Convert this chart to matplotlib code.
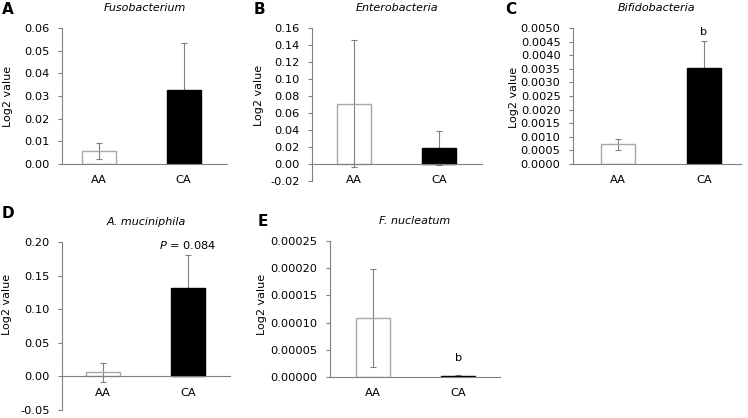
#!/usr/bin/env python3
'''
Five small bar panels (AA vs CA), log2 values with error bars.
'''

import matplotlib
matplotlib.use('Agg')
import matplotlib.pyplot as plt
from matplotlib.ticker import FormatStrFormatter, MultipleLocator

plt.rcParams['font.family'] = ['DejaVu Sans']
plt.rcParams['axes.unicode_minus'] = False

groups = ['AA', 'CA']
letters = ['A', 'B', 'C', 'D', 'E']
titles = ['Fusobacterium', 'Enterobacteria', 'Bifidobacteria',
          'A. muciniphila', 'F. nucleatum']

fuso_mean = [0.0058, 0.0325]
fuso_err = [0.0035, 0.0210]
entero_mean = [0.071, 0.019]
entero_err = [0.075, 0.020]
bifido_mean = [0.00072, 0.00352]
bifido_err = [0.00021, 0.00100]
akk_mean = [0.006, 0.131]
akk_err = [0.014, 0.049]
fn_mean = [0.000108, 0.0000025]
fn_err = [0.000090, 0.0000020]

means = [fuso_mean, entero_mean, bifido_mean, akk_mean, fn_mean]
errs = [fuso_err, entero_err, bifido_err, akk_err, fn_err]
notes = ['', '', 'b', r'$\it{P}$ = 0.084', 'b']

# layout in pixels: left, right, top, bottom of each axes
W, H = 748, 418
boxes = [(62, 227, 28, 164), (312, 482, 28, 181), (573, 741, 28, 164),
         (62, 230, 242, 410), (330, 500, 241, 377)]
ylims = [(0, 0.06), (-0.02, 0.16), (0, 0.005), (-0.05, 0.20), (0, 0.00025)]
ysteps = [0.01, 0.02, 0.0005, 0.05, 0.00005]
yfmts = ['%.2f', '%.2f', '%.4f', '%.2f', '%.5f']
xlims = [(-0.43, 1.51), (-0.49, 1.50), (-0.52, 1.43), (-0.48, 1.49), (-0.50, 1.49)]
ylab_x = [49, 48, 54, 50, 63]
ylab_y = [0.5, 0.56, 0.49, 0.63, 0.53]
note_off = [0, 0, 3, 3, 8]
letter_pos = [(2, 10), (254, 10), (505, 10), (2, 213), (258, 222)]

grey = '#808080'
fig = plt.figure(figsize=(W / 100, H / 100), dpi=100)

for i in range(5):
    l, r, t, b = boxes[i]
    ax = fig.add_axes([l / W, 1 - b / H, (r - l) / W, (b - t) / H])
    x = [0, 1]
    ax.errorbar(x, means[i], yerr=errs[i], fmt='none', ecolor=grey,
                elinewidth=0.8, capsize=2, capthick=0.8, zorder=1)
    ax.bar(0, means[i][0], width=0.4, facecolor='none', edgecolor='#a8a8a8',
           linewidth=1, zorder=2)
    ax.bar(1, means[i][1], width=0.4, facecolor='black', edgecolor='black',
           linewidth=1, zorder=2)
    ax.set_xlim(*xlims[i])
    ax.set_ylim(*ylims[i])
    ax.yaxis.set_major_locator(MultipleLocator(ysteps[i]))
    ax.yaxis.set_major_formatter(FormatStrFormatter(yfmts[i]))
    ax.set_xticks(x)
    ax.set_xticklabels(groups)
    for s in ['top', 'right']:
        ax.spines[s].set_visible(False)
    for s in ['left', 'bottom']:
        ax.spines[s].set_color(grey)
        ax.spines[s].set_linewidth(0.8)
    ax.spines['bottom'].set_position(('data', 0))
    ax.tick_params(axis='y', direction='out', length=3, width=0.8,
                   color=grey, labelsize=8.2, pad=6)
    ax.tick_params(axis='x', length=0, labelsize=8.2, pad=8)
    ax.set_ylabel('Log2 value', fontsize=8)
    ax.yaxis.set_label_coords(-ylab_x[i] / (r - l), ylab_y[i])
    ax.set_title(titles[i], fontsize=8, style='italic', pad=12)
    if notes[i]:
        top = means[i][1] + errs[i][1]
        ax.annotate(notes[i], (1, top), xytext=(0, note_off[i]),
                    textcoords='offset points', ha='center', va='bottom',
                    fontsize=8.2)
    lx, ly = letter_pos[i]
    fig.text(lx / W, 1 - ly / H, letters[i], fontsize=11, fontweight='bold',
             ha='left', va='center')

fig.savefig('out.png', dpi=100)
